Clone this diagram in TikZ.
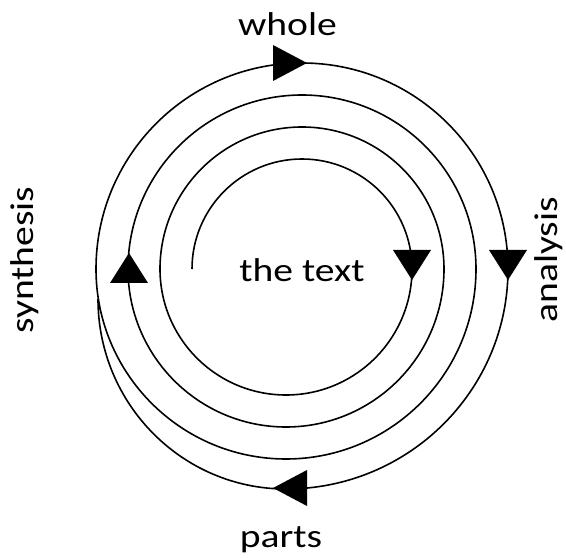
\documentclass[tikz,border=0pt]{standalone}
\usepackage{fontspec}
\setmainfont{Carlito}[FakeStretch=1.2]
\begin{document}
\begin{tikzpicture}[x=1pt,y=1pt,
  spiral/.style={line width=1.6pt, black},
  tri/.style={fill=black, draw=none},
  lbl/.style={inner sep=0pt, anchor=base, font=\fontsize{33}{40}\selectfont}]
\path[use as bounding box] (0,0) rectangle (566,558);
% spiral
\draw[spiral] (192,289)
  arc[start angle=180,end angle=0,radius=110]
  arc[start angle=0,end angle=-180,radius=126]
  arc[start angle=180,end angle=0,radius=142]
  arc[start angle=0,end angle=-180,radius=158]
  arc[start angle=180,end angle=0,radius=174]
  arc[start angle=0,end angle=-180,radius=190]
  arc[start angle=180,end angle=0,radius=206]
  arc[start angle=0,end angle=-90,x radius=222,y radius=220]
  arc[start angle=-90,end angle=-180,x radius=188,y radius=190];
% arrowheads
\fill[tri] (307,495) -- (273,513) -- (273,477) -- cycle;
\fill[tri] (508,278) -- (489,308) -- (527,308) -- cycle;
\fill[tri] (412,278) -- (393,308) -- (431,308) -- cycle;
\fill[tri] (129,305) -- (110,275) -- (148,275) -- cycle;
\fill[tri] (273,70) -- (307,88) -- (307,52) -- cycle;
% labels
\node[lbl] (whole) at (287.5,522) {whole};
\node[lbl] (parts) at (281,10) {parts};
\node[lbl] (text) at (302,276) {the text};
\node[lbl, rotate=90] (synth) at (33,298) {synthesis};
\node[lbl, rotate=90] (anal) at (557,298) {analysis};
\end{tikzpicture}
\end{document}
